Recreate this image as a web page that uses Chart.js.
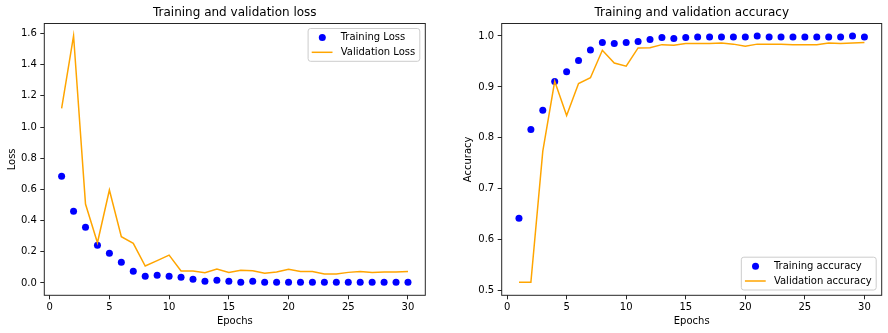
<!DOCTYPE html>
<html>
<head>
<meta charset="utf-8">
<script src="https://cdn.jsdelivr.net/npm/chart.js@4.4.1/dist/chart.umd.min.js"></script>
<style>
  html, body { margin: 0; padding: 0; background: #fff; }
  #wrap { position: relative; width: 888px; height: 333px; }
  canvas { position: absolute; top: 0; }
</style>
</head>
<body>
<div id="wrap">
  <canvas id="loss" width="444" height="333" style="left:0"></canvas>
  <canvas id="acc" width="444" height="333" style="left:444px"></canvas>
</div>
<script>
// Training history, one entry per epoch
const epochs = [1, 2, 3, 4, 5, 6, 7, 8, 9, 10, 11, 12, 13, 14, 15,
                16, 17, 18, 19, 20, 21, 22, 23, 24, 25, 26, 27, 28, 29, 30];

const trainLoss = [0.684, 0.460, 0.357, 0.242, 0.190, 0.133, 0.075, 0.043, 0.049, 0.043,
                   0.036, 0.024, 0.011, 0.017, 0.011, 0.005, 0.011, 0.005, 0.005, 0.005,
                   0.005, 0.005, 0.005, 0.005, 0.005, 0.005, 0.005, 0.005, 0.005, 0.005];
const valLoss = [1.120, 1.585, 0.506, 0.258, 0.596, 0.297, 0.254, 0.109, 0.143, 0.179,
                 0.077, 0.077, 0.066, 0.090, 0.068, 0.081, 0.079, 0.062, 0.070, 0.088,
                 0.073, 0.073, 0.058, 0.058, 0.068, 0.074, 0.068, 0.070, 0.070, 0.074];

const trainAcc = [0.642, 0.8165, 0.854, 0.9106, 0.930, 0.952, 0.9726, 0.987, 0.985, 0.987,
                  0.989, 0.993, 0.997, 0.995, 0.997, 0.998, 0.998, 0.998, 0.998, 0.998,
                  1.000, 0.998, 0.998, 0.998, 0.998, 0.998, 0.998, 0.998, 1.000, 0.998];
const valAcc = [0.5164, 0.5164, 0.774, 0.911, 0.844, 0.9067, 0.918, 0.972, 0.947, 0.9406,
                0.9765, 0.977, 0.983, 0.982, 0.985, 0.985, 0.985, 0.986, 0.984, 0.980,
                0.984, 0.984, 0.984, 0.983, 0.983, 0.983, 0.986, 0.985, 0.986, 0.987];

// Tick positions
const epochTicks = [0, 5, 10, 15, 20, 25, 30];
const lossTicks = [0.0, 0.2, 0.4, 0.6, 0.8, 1.0, 1.2, 1.4, 1.6];
const accTicks = [0.5, 0.6, 0.7, 0.8, 0.9, 1.0];

const FONT = 'DejaVu Sans';
const INK = '#000';
const SPINE = '#262626';

Chart.defaults.font.family = FONT;
Chart.defaults.font.size = 10;
Chart.defaults.color = INK;

const pairs = (xs, ys) => xs.map((x, i) => ({ x: x, y: ys[i] }));

// Box around the plotting area
const spines = {
  id: 'spines',
  afterDraw(chart) {
    const a = chart.chartArea, c = chart.ctx;
    c.save();
    c.strokeStyle = SPINE;
    c.lineWidth = 1;
    c.strokeRect(a.left, a.top, a.right - a.left, a.bottom - a.top);
    c.restore();
  }
};

// Title centred over the plotting area
const axTitle = {
  id: 'axTitle',
  afterDraw(chart, args, opts) {
    const a = chart.chartArea, c = chart.ctx;
    c.save();
    c.font = '12px "' + FONT + '"';
    c.fillStyle = INK;
    c.textAlign = 'center';
    c.textBaseline = 'middle';
    c.fillText(opts.text, (a.left + a.right) / 2, opts.y);
    c.restore();
  }
};

// Framed legend: marker for the scatter series, short line for the line series
const boxLegend = {
  id: 'boxLegend',
  afterDraw(chart, args, opts) {
    const a = chart.chartArea, c = chart.ctx;
    const sets = chart.data.datasets;
    c.save();
    c.font = '10px "' + FONT + '"';
    const textW = Math.max(...sets.map(d => c.measureText(d.label).width));
    const w = 32.6 + textW + 4.6;
    const rowGap = 14.8;
    const h = 9 * 2 + rowGap * (sets.length - 1);
    const left = a.right - 5.5 - w;
    const top = opts.corner === 'br' ? a.bottom - 5.3 - h : a.top + 5;
    c.beginPath();
    c.roundRect(left, top, w, h, 2.5);
    c.fillStyle = 'rgba(255,255,255,0.8)';
    c.fill();
    c.strokeStyle = '#cccccc';
    c.lineWidth = 1;
    c.stroke();
    sets.forEach((d, i) => {
      const cy = top + 9 + i * rowGap;
      if (d.showLine === false) {
        c.beginPath();
        c.arc(left + 14.2, cy, d.pointRadius, 0, Math.PI * 2);
        c.fillStyle = d.pointBackgroundColor;
        c.fill();
      } else {
        c.beginPath();
        c.moveTo(left + 3.6, cy);
        c.lineTo(left + 24.4, cy);
        c.strokeStyle = d.borderColor;
        c.lineWidth = d.borderWidth;
        c.stroke();
      }
      c.fillStyle = INK;
      c.textAlign = 'left';
      c.textBaseline = 'middle';
      c.fillText(d.label, left + 32.6, cy);
    });
    c.restore();
  }
};

function scales(yMin, yMax, yTicks, yTitle, yWidth, yTitlePad) {
  const tickGrid = { drawOnChartArea: false, tickLength: 4, tickColor: SPINE, lineWidth: 1 };
  return {
    x: {
      type: 'linear', min: -0.45, max: 31.45,
      afterBuildTicks: s => { s.ticks = epochTicks.map(v => ({ value: v })); },
      afterFit: s => { s.height = 37.7; },
      grid: tickGrid,
      border: { display: false },
      ticks: { padding: 2.5, color: INK, maxRotation: 0, autoSkip: false, callback: v => String(v) },
      title: { display: true, text: 'Epochs', color: INK, font: { size: 10 }, padding: { top: 0, bottom: 5.3 } }
    },
    y: {
      type: 'linear', min: yMin, max: yMax,
      afterBuildTicks: s => { s.ticks = yTicks.map(v => ({ value: v })); },
      afterFit: s => { s.width = yWidth; },
      grid: tickGrid,
      border: { display: false },
      ticks: { padding: 3.5, color: INK, autoSkip: false, callback: v => Number(v).toFixed(1) },
      title: { display: true, text: yTitle, color: INK, font: { size: 10 }, padding: { top: yTitlePad, bottom: 0 } }
    }
  };
}

function makeChart(id, trainLabel, trainVals, valLabel, valVals, title, scaleOpts, rightPad, corner) {
  return new Chart(document.getElementById(id), {
    type: 'line',
    data: {
      datasets: [
        {
          label: trainLabel, data: pairs(epochs, trainVals), showLine: false,
          pointRadius: 3.5, pointBackgroundColor: '#0000ff', pointBorderWidth: 0,
          borderColor: '#0000ff', order: 2
        },
        {
          label: valLabel, data: pairs(epochs, valVals), showLine: true,
          pointRadius: 0, borderColor: '#ffa500', borderWidth: 1.5, tension: 0, fill: false, order: 1
        }
      ]
    },
    options: {
      responsive: false, animation: false, devicePixelRatio: 1, events: [],
      layout: { padding: { top: 23.5, right: rightPad, bottom: 0, left: 0 } },
      scales: scaleOpts,
      plugins: {
        legend: { display: false }, tooltip: { enabled: false }, title: { display: false },
        axTitle: { text: title, y: 13.3 },
        boxLegend: { corner: corner }
      }
    },
    plugins: [spines, boxLegend, axTitle]
  });
}

makeChart('loss', 'Training Loss', trainLoss, 'Validation Loss', valLoss,
  'Training and validation loss',
  scales(-0.079, 1.664, lossTicks, 'Loss', 44.3, 6.5), 18.7, 'tr');

makeChart('acc', 'Training accuracy', trainAcc, 'Validation accuracy', valAcc,
  'Training and validation accuracy',
  scales(0.491, 1.0245, accTicks, 'Accuracy', 57.7, 18), 6.3, 'br');
</script>
</body>
</html>
